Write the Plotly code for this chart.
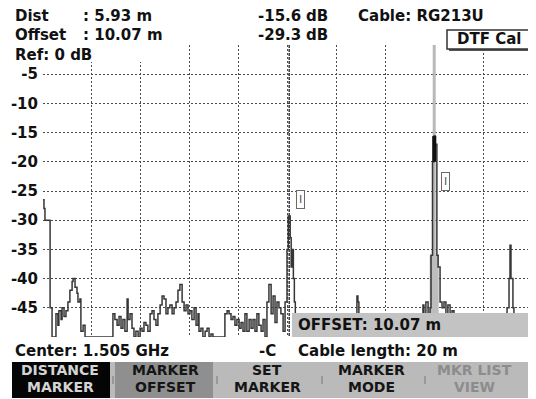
import plotly.graph_objects as go

# ---------------- data (distance in m, level in dB) ----------------
distance_m = [0.00, 0.04, 0.08, 0.20, 0.29, 0.37, 0.49, 0.53, 0.61, 0.65, 0.74, 0.78, 0.86, 0.94,
              1.02, 1.10, 1.19, 1.23, 1.31, 1.39, 1.43, 1.51, 1.55, 1.64, 1.72,
              2.82, 2.86, 2.94, 3.03, 3.11, 3.19, 3.27, 3.35, 3.44, 3.48, 3.56, 3.64, 3.72, 3.80,
              3.89, 3.97, 4.05, 4.13, 4.21, 4.29, 4.38, 4.46, 4.54, 4.62, 4.70, 4.79, 4.87, 4.95,
              5.03, 5.11, 5.19, 5.28, 5.36, 5.44, 5.52, 5.60, 5.69, 5.77, 5.85, 5.93, 6.01, 6.09,
              6.18, 6.26, 6.34, 6.38, 6.46, 6.54, 6.63, 6.71, 6.79, 6.87, 6.95,
              7.40, 7.44, 7.53, 7.61, 7.69, 7.77, 7.85, 7.93, 8.02, 8.10, 8.18, 8.26, 8.34, 8.43,
              8.51, 8.59, 8.67, 8.75, 8.83, 8.92, 9.00, 9.08, 9.16, 9.24, 9.33, 9.41, 9.49, 9.57,
              9.65, 9.73, 9.82, 9.90, 9.98, 10.03, 10.11, 10.15, 10.19, 10.24, 10.28, 10.32, 10.40,
              12.76, 12.80, 12.84, 12.88, 12.92, 12.97,
              15.42, 15.46, 15.54, 15.58, 15.66, 15.75, 15.83, 15.87, 15.93, 15.99, 16.05, 16.11,
              16.16, 16.24, 16.32, 16.40, 16.48, 16.56, 16.65, 16.73, 16.81, 16.89,
              18.90, 18.94, 18.98, 19.06, 19.10, 19.14, 19.22, 19.26, 19.35, 19.96, 20.00]
level_db = [-26.5, -28, -30, -30, -45, -50, -50, -46, -48, -45.5, -47, -45, -46.5, -45.5,
            -44, -42, -40.5, -40, -41.5, -42.5, -44, -43.5, -49, -48, -50,
            -50, -46, -47, -48, -46.5, -48.5, -47, -49, -43.5, -47, -46, -48.5, -50, -49,
            -50, -48.5, -49, -47.5, -48, -49, -46, -45.5, -47, -48, -46, -44.5, -43, -43.5,
            -46, -45, -44.5, -46, -45, -44, -42, -41, -44, -45.5, -44.5, -46, -45.5, -47,
            -45, -48, -46, -49, -48.5, -50, -49, -48.5, -50, -49.5, -50,
            -50, -46, -45.5, -46, -47, -46.5, -48, -47, -48.5, -47.5, -49, -46, -49, -47,
            -48.5, -47, -49, -46, -48, -49, -47, -50, -44, -41, -46, -43, -47.5, -44,
            -45, -46, -49, -44, -35, -29.3, -33, -38, -35, -40, -44, -47, -50,
            -50, -47, -43, -44, -47, -50,
            -50, -46, -44.5, -47, -44, -46, -45, -36, -20, -15.6, -17, -36,
            -38, -44, -45, -44, -46, -44.5, -47, -45.5, -48, -50,
            -50, -46, -45, -40, -34.3, -40, -45, -46, -50, -50, -47.5]

y_tick_vals = [0, -5, -10, -15, -20, -25, -30, -35, -40, -45, -50]
y_tick_text = ["", "-5", "-10", "-15", "-20", "-25", "-30", "-35", "-40", "-45", ""]
x_grid_vals = [0, 2, 4, 6, 8, 10, 12, 14, 16, 18, 20]

marker_pos_m = [10.07, 16.00]
marker_level_db = [-29.3, -15.6]
marker_label_db = [-26.4, -23.3]
marker_label_offset_m = 0.47
marker2_band_top_db = -36
marker2_peak_bottom_db = -20

header_dist = "5.93 m"
header_offset = "10.07 m"
softkeys = [("DISTANCE", "MARKER"), ("MARKER", "OFFSET"), ("SET", "MARKER"),
            ("MARKER", "MODE"), ("MKR LIST", "VIEW")]

# ---------------- layout helpers (window pixels -> paper) ----------------
PAGE_OFF = 8                     # default body margin of the page
W, H = 536 - PAGE_OFF, 399 - PAGE_OFF


def fx(p):
    return (p - PAGE_OFF) / W


def fy(p):
    return 1 - (p - PAGE_OFF) / H


FONT = "DejaVu Sans"

fig = go.Figure()

# marker 2 (active, light gray)
fig.add_trace(go.Scatter(x=[marker_pos_m[1]] * 2, y=[0, -50], mode="lines",
                         line=dict(color="#b8b8b8", width=3), hoverinfo="skip"))
fig.add_trace(go.Scatter(x=[marker_pos_m[1]] * 2, y=[marker2_band_top_db, -50], mode="lines",
                         line=dict(color="#bdbdbd", width=9), hoverinfo="skip"))
# marker 1 (offset marker, dark dashed)
fig.add_trace(go.Scatter(x=[marker_pos_m[0]] * 2, y=[0, -50], mode="lines",
                         line=dict(color="#3a3a3a", width=1.5, dash="3px,1px"), hoverinfo="skip"))
# DTF trace
fig.add_trace(go.Scatter(x=distance_m, y=level_db, mode="lines",
                         line=dict(color="#363636", width=1.5, shape="hv"), hoverinfo="skip"))
# dense top of the main reflection peak
fig.add_trace(go.Scatter(x=[marker_pos_m[1]] * 2, y=[marker_level_db[1], marker2_peak_bottom_db],
                         mode="lines", line=dict(color="#111111", width=4), hoverinfo="skip"))

ann = []


def text(x, y, s, size=15, color="#111111", anchor="left", bold=True):
    ann.append(dict(x=fx(x - (1 if anchor == "left" else 0)), y=fy(y), xref="paper", yref="paper",
                    text=s, showarrow=False, xanchor=anchor, yanchor="middle",
                    font=dict(family=FONT, size=size, color=color,
                              weight="bold" if bold else "normal")))


# marker symbol boxes
for pos, lab in zip(marker_pos_m, marker_label_db):
    ann.append(dict(x=pos + marker_label_offset_m, y=lab, xref="x", yref="y", text="I",
                    showarrow=False, bgcolor="white", bordercolor="#6a6a6a", borderwidth=1,
                    borderpad=2, font=dict(family=FONT, size=11, color="#555555")))

# header
text(14, 16, "Dist")
text(82, 16, ": " + header_dist)
text(14, 35, "Offset")
text(82, 35, ": " + header_offset)
text(14, 55, "Ref: 0 dB")
text(257, 16, "%.1f" % marker_level_db[1])
text(305, 16, "dB")
text(257, 35, "%.1f" % marker_level_db[0])
text(305, 35, "dB")
text(357, 16, "Cable: RG213U")
text(489, 39, "DTF Cal", anchor="center")

# offset readout in plot
text(297, 325, "OFFSET: " + header_offset)

# bottom info line
text(14, 351, "Center: 1.505 GHz")
text(258, 351, "-C")
text(297, 351, "Cable length: 20 m")

# softkeys
key_centers = [60, 165, 267, 371, 474]
key_colors = ["#d4d4d4", "#151515", "#151515", "#151515", "#8c8c8c"]
for (l1, l2), cx, col in zip(softkeys, key_centers, key_colors):
    text(cx, 370, l1, size=14, color=col, anchor="center")
    text(cx, 387, l2, size=14, color=col, anchor="center")

shapes = [
    # header area covers the grid
    dict(type="rect", xref="paper", yref="paper", x0=fx(PAGE_OFF), x1=fx(188), y0=fy(PAGE_OFF),
         y1=fy(62), fillcolor="white", line=dict(width=0), layer="above"),
    # DTF Cal box (shadow + box)
    dict(type="rect", xref="paper", yref="paper", x0=fx(449), x1=fx(533), y0=fy(32), y1=fy(51),
         fillcolor="#555555", line=dict(width=0), layer="above"),
    dict(type="rect", xref="paper", yref="paper", x0=fx(447), x1=fx(531), y0=fy(30), y1=fy(49),
         fillcolor="white", line=dict(color="#333333", width=1.5), layer="above"),
    # OFFSET readout box
    dict(type="rect", xref="paper", yref="paper", x0=fx(292), x1=fx(529), y0=fy(313), y1=fy(337),
         fillcolor="#c3c3c3", line=dict(width=0), layer="above"),
    # softkey bar
    dict(type="rect", xref="paper", yref="paper", x0=fx(12), x1=fx(536), y0=fy(362), y1=fy(398),
         fillcolor="#bababa", line=dict(width=0), layer="above"),
    dict(type="rect", xref="paper", yref="paper", x0=fx(12), x1=fx(110), y0=fy(362), y1=fy(398),
         fillcolor="#050505", line=dict(width=0), layer="above"),
    dict(type="rect", xref="paper", yref="paper", x0=fx(115), x1=fx(213), y0=fy(362), y1=fy(398),
         fillcolor="#8f8f8f", line=dict(width=0), layer="above"),
]
for sx in [113, 217, 322, 425]:
    shapes.append(dict(type="line", xref="paper", yref="paper", x0=fx(sx), x1=fx(sx),
                       y0=fy(376), y1=fy(384), line=dict(color="#777777", width=1), layer="above"))

fig.update_layout(
    width=W, height=H,
    margin=dict(l=0, r=0, t=0, b=0),
    paper_bgcolor="white", plot_bgcolor="white",
    showlegend=False,
    annotations=ann,
    shapes=shapes,
    xaxis=dict(domain=[fx(43), fx(532)], range=[0, 20], tickvals=x_grid_vals,
               showticklabels=False, ticks="", showgrid=True, gridcolor="#4a4a4a",
               griddash="2px,2px", gridwidth=1, zeroline=False, showline=False,
               automargin=False, fixedrange=True),
    yaxis=dict(domain=[fy(337), fy(45)], range=[-50, 0], tickvals=y_tick_vals,
               ticktext=y_tick_text, ticks="", ticklabelstandoff=4,
               tickfont=dict(family=FONT, size=15, color="#111111", weight="bold"),
               showgrid=True, gridcolor="#4a4a4a", griddash="2px,2px", gridwidth=1,
               zeroline=False, showline=False, automargin=False, fixedrange=True),
)

fig.write_html("out.html")
